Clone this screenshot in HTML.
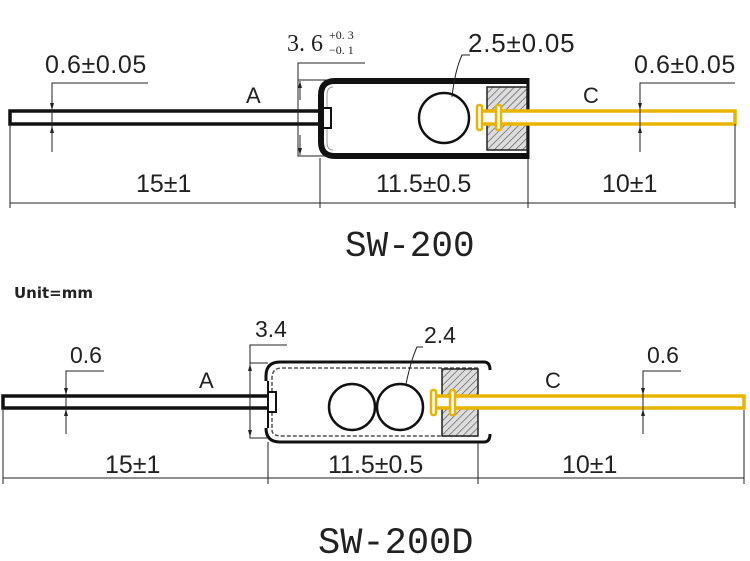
<!DOCTYPE html>
<html><head><meta charset="utf-8"><style>
html,body{margin:0;padding:0;background:#fff;}
svg{display:block;}
text{font-family:"Liberation Sans",sans-serif;fill:#222;}
.m{font-family:"Liberation Mono","DejaVu Sans Mono",monospace;}
.s{font-family:"Liberation Serif",serif;}
</style></head><body>
<svg width="750" height="561" viewBox="0 0 750 561" xmlns="http://www.w3.org/2000/svg">
<defs>
<pattern id="h" width="5" height="5" patternUnits="userSpaceOnUse" patternTransform="rotate(45)">
<rect width="5" height="5" fill="#ddd"/><line x1="0" y1="0" x2="0" y2="5" stroke="#555" stroke-width="1.3"/>
</pattern>
<marker id="a" markerWidth="8" markerHeight="8" refX="7" refY="4" orient="auto" markerUnits="userSpaceOnUse">
<path d="M0,2 L7,4 L0,6 Z" fill="#222"/></marker>
</defs>

<!-- ===== TOP SW-200 ===== -->
<rect x="10" y="111" width="316" height="13" fill="#fff" stroke="#111" stroke-width="3.5"/>
<path d="M528,81 L335,81 Q321,81 321,95 L321,142 Q321,156 335,156 L528,156" fill="none" stroke="#111" stroke-width="6"/>
<path d="M333,87 Q327,87 327,95 L327,142 Q327,150 333,150" fill="none" stroke="#999" stroke-width="1"/>
<rect x="323" y="108" width="8" height="20" fill="#fff" stroke="#111" stroke-width="2"/>
<line x1="528" y1="78" x2="528" y2="159" stroke="#111" stroke-width="3"/>
<rect x="487" y="87" width="40" height="63" fill="url(#h)" stroke="#222" stroke-width="1.5"/>
<circle cx="444" cy="118" r="25" fill="#fff" stroke="#111" stroke-width="2.5"/>
<rect x="480" y="111" width="255" height="13" fill="#fff" stroke="#e8b400" stroke-width="3.5"/>
<rect x="477" y="105" width="5" height="25" rx="2" fill="#fff" stroke="#e8b400" stroke-width="2.5"/>
<rect x="496" y="105" width="5" height="25" rx="2" fill="#fff" stroke="#e8b400" stroke-width="2.5"/>
<g stroke="#222" stroke-width="1" fill="none">
<line x1="10" y1="124" x2="10" y2="208"/><line x1="320" y1="158" x2="320" y2="208"/>
<line x1="528" y1="159" x2="528" y2="208"/><line x1="735" y1="124" x2="735" y2="208"/>
<line x1="10" y1="203" x2="735" y2="203"/>
<polyline points="148,83 52,83 52,152"/>
<line x1="52" y1="94" x2="52" y2="110" marker-end="url(#a)"/>
<line x1="52" y1="142" x2="52" y2="126" marker-end="url(#a)"/>
<polyline points="735,83 640,83 640,152"/>
<line x1="640" y1="94" x2="640" y2="110" marker-end="url(#a)"/>
<line x1="640" y1="142" x2="640" y2="126" marker-end="url(#a)"/>
<polyline points="365,63 298,63 298,156 330,156"/>
<line x1="298" y1="80" x2="330" y2="80"/>
<line x1="300" y1="100" x2="300" y2="81" marker-end="url(#a)"/>
<line x1="300" y1="135" x2="300" y2="155" marker-end="url(#a)"/>
<path d="M452,97 Q455,70 462,55 L470,55"/>
</g>
<text x="45" y="73" font-size="25" letter-spacing="0.6">0.6±0.05</text>
<text x="634" y="73" font-size="25" letter-spacing="0.6">0.6±0.05</text>
<text x="468" y="52" font-size="26" letter-spacing="0.8">2.5±0.05</text>
<text x="287" y="51" font-size="24" class="s">3. 6</text>
<text x="329" y="39" font-size="12" class="s">+0. 3</text>
<text x="329" y="54" font-size="12" class="s">−0. 1</text>
<text x="246" y="103" font-size="22">A</text>
<text x="583" y="103" font-size="22">C</text>
<text x="136" y="192" font-size="25">15±1</text>
<text x="376" y="192" font-size="25">11.5±0.5</text>
<text x="602" y="192" font-size="25">10±1</text>
<text x="345" y="256" font-size="36" class="m">SW-200</text>

<text x="14" y="298" font-size="15" font-weight="bold" style="font-family:'DejaVu Sans',sans-serif">Unit=mm</text>

<!-- ===== BOTTOM SW-200D ===== -->
<rect x="3" y="396" width="268" height="12" fill="#fff" stroke="#111" stroke-width="3.5"/>
<path d="M478,362 L280,362 Q266,362 266,376 L266,381 M266,428 Q266,442 280,442 L478,442" fill="none" stroke="#111" stroke-width="3"/>
<path d="M268,381 L268,428" stroke="#111" stroke-width="2"/>
<path d="M478,368 L282,368 Q272,368 272,378 L272,430 Q272,436 282,436 L478,436" fill="none" stroke="#555" stroke-width="1.5" stroke-dasharray="4,2"/>
<path d="M478,362 L484,362 Q490,362 490,370" fill="none" stroke="#111" stroke-width="3"/>
<path d="M478,442 L484,442 Q490,442 490,434" fill="none" stroke="#111" stroke-width="3"/>
<rect x="268" y="392" width="8" height="20" fill="#fff" stroke="#111" stroke-width="2"/>
<rect x="442" y="369" width="36" height="67" fill="url(#h)" stroke="#222" stroke-width="1.5"/>
<circle cx="352" cy="407" r="23" fill="#fff" stroke="#111" stroke-width="2.5"/>
<circle cx="400" cy="407" r="23" fill="#fff" stroke="#111" stroke-width="2.5"/>
<rect x="434" y="396" width="310" height="12" fill="#fff" stroke="#e8b400" stroke-width="3.5"/>
<rect x="431" y="390" width="5" height="25" rx="2" fill="#fff" stroke="#e8b400" stroke-width="2.5"/>
<rect x="450" y="390" width="5" height="25" rx="2" fill="#fff" stroke="#e8b400" stroke-width="2.5"/>
<g stroke="#222" stroke-width="1" fill="none">
<line x1="3" y1="410" x2="3" y2="484"/><line x1="268" y1="442" x2="268" y2="484"/>
<line x1="478" y1="442" x2="478" y2="484"/><line x1="744" y1="410" x2="744" y2="484"/>
<line x1="3" y1="478" x2="744" y2="478"/>
<polyline points="104,371 66,371 66,434"/>
<line x1="66" y1="382" x2="66" y2="395" marker-end="url(#a)"/>
<line x1="66" y1="424" x2="66" y2="409" marker-end="url(#a)"/>
<polyline points="681,371 643,371 643,434"/>
<line x1="643" y1="382" x2="643" y2="395" marker-end="url(#a)"/>
<line x1="643" y1="424" x2="643" y2="409" marker-end="url(#a)"/>
<polyline points="287,345 250,345 250,438 268,438"/>
<line x1="250" y1="363" x2="268" y2="363"/>
<line x1="250" y1="383" x2="250" y2="364" marker-end="url(#a)"/>
<line x1="250" y1="418" x2="250" y2="437" marker-end="url(#a)"/>
<path d="M406,384 Q411,360 417,347 L423,347"/>
</g>
<text x="70" y="363" font-size="23">0.6</text>
<text x="647" y="363" font-size="23">0.6</text>
<text x="255" y="337" font-size="23">3.4</text>
<text x="424" y="343" font-size="23">2.4</text>
<text x="199" y="388" font-size="22">A</text>
<text x="545" y="388" font-size="22">C</text>
<text x="105" y="473" font-size="25">15±1</text>
<text x="328" y="473" font-size="25">11.5±0.5</text>
<text x="562" y="473" font-size="25">10±1</text>
<text x="318" y="553" font-size="37" class="m">SW-200D</text>
</svg>
</body></html>
